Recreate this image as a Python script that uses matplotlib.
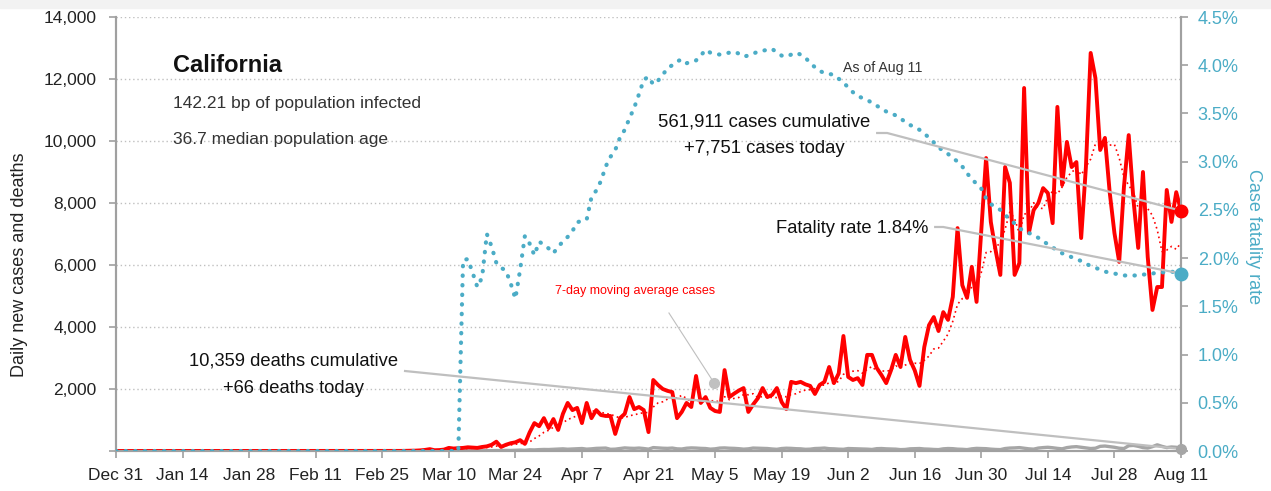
import numpy as np
import pandas as pd
import matplotlib
matplotlib.use("Agg")
import matplotlib.pyplot as plt
import matplotlib.dates as mdates
from matplotlib import font_manager
from matplotlib.patches import Rectangle

# daily new cases, Feb 29 -> Aug 11 (earlier days ~0)
cases = [3, 5, 10, 12, 20, 35, 60, 25, 30, 45,
         100, 80, 90, 100, 120, 110, 100, 130, 150, 200,
         300, 130, 200, 250, 280, 350, 230, 600, 900, 800,
         1060, 740, 1030, 680, 1200, 1550, 1320, 1390, 900, 1550,
         1060, 1320, 1160, 1130, 1130, 550, 1060, 1200, 1740, 1350,
         1420, 1320, 610, 2290, 2130, 2000, 1940, 1900, 1060, 1260,
         1550, 1420, 2420, 1550, 1740, 1390, 1290, 1260, 2610, 1740,
         1850, 1950, 2030, 1260, 1500, 1700, 2030, 1740, 1810, 2030,
         1580, 1350, 2230, 2190, 2230, 2150, 2100, 1840, 2130, 2230,
         2710, 2190, 2500, 3710, 2390, 2290, 2350, 2130, 3100, 3100,
         2680, 2450, 2190, 2600, 3100, 2710, 3680, 2940, 2600, 2100,
         3350, 4060, 4320, 3870, 4480, 4230, 4970, 7190, 5350, 4940,
         5940, 4810, 7130, 9450, 7390, 6480, 5680, 9160, 8650, 5680,
         6060, 11710, 7030, 7770, 8000, 8480, 8320, 7350, 11100, 8580,
         9970, 9160, 9320, 6870, 9160, 12840, 12030, 9710, 10100, 8350,
         7030, 6100, 8520, 10190, 8100, 6550, 9000, 6260, 4550, 5290,
         5290, 8420, 7390, 8350, 7751]

# daily new deaths, same days
deaths = [0, 0, 0, 0, 1, 1, 2, 1, 2, 3,
          4, 3, 5, 6, 8, 4, 6, 7, 10, 12,
          15, 12, 20, 18, 25, 30, 22, 40, 35, 45,
          50, 48, 55, 60, 70, 58, 65, 75, 80, 60,
          70, 85, 90, 95, 55, 60, 80, 100, 90, 85,
          95, 80, 60, 110, 100, 90, 85, 95, 70, 65,
          90, 100, 95, 85, 80, 60, 70, 95, 100, 90,
          85, 75, 60, 70, 95, 90, 85, 80, 65, 55,
          80, 90, 85, 75, 70, 55, 60, 80, 85, 95,
          75, 70, 60, 55, 80, 75, 70, 65, 60, 50,
          75, 80, 70, 65, 60, 45, 50, 70, 75, 80,
          65, 60, 50, 45, 70, 80, 75, 60, 55, 45,
          70, 85, 80, 75, 60, 50, 45, 80, 95, 100,
          110, 90, 70, 60, 95, 110, 120, 105, 85, 70,
          110, 130, 140, 120, 100, 80, 90, 150, 160, 140,
          120, 90, 80, 170, 180, 150, 110, 95, 140, 200,
          150, 110, 130, 120, 66]

# case fatality rate (%), Mar 12 -> Aug 11 (0 before)
cfr = [0.00, 1.98, 1.99, 1.85, 1.70, 1.80, 2.25, 2.12, 1.95, 1.90,
       1.87, 1.74, 1.58, 1.88, 2.23, 2.15, 2.03, 2.17, 2.14, 2.10,
       2.05, 2.12, 2.17, 2.22, 2.28, 2.37, 2.39, 2.40, 2.63, 2.70,
       2.80, 2.95, 3.05, 3.12, 3.25, 3.33, 3.45, 3.56, 3.70, 3.85,
       3.88, 3.80, 3.84, 3.90, 3.97, 4.00, 4.04, 4.06, 4.02, 4.04,
       4.05, 4.10, 4.16, 4.13, 4.12, 4.11, 4.12, 4.13, 4.14, 4.12,
       4.09, 4.10, 4.12, 4.14, 4.15, 4.16, 4.17, 4.13, 4.10, 4.09,
       4.11, 4.13, 4.11, 4.08, 4.02, 3.98, 3.94, 3.92, 3.91, 3.90,
       3.86, 3.82, 3.77, 3.72, 3.68, 3.66, 3.64, 3.61, 3.58, 3.55,
       3.52, 3.50, 3.48, 3.45, 3.41, 3.38, 3.36, 3.33, 3.29, 3.25,
       3.20, 3.15, 3.11, 3.08, 3.04, 3.00, 2.95, 2.88, 2.82, 2.77,
       2.72, 2.62, 2.56, 2.53, 2.50, 2.45, 2.40, 2.36, 2.31, 2.28,
       2.26, 2.24, 2.21, 2.18, 2.14, 2.11, 2.08, 2.05, 2.03, 2.01,
       1.99, 1.97, 1.94, 1.92, 1.90, 1.88, 1.86, 1.85, 1.84, 1.83,
       1.82, 1.82, 1.82, 1.82, 1.83, 1.83, 1.84, 1.85, 1.85, 1.86,
       1.86, 1.85, 1.84]

tick_labels = ["Dec 31", "Jan 14", "Jan 28", "Feb 11", "Feb 25", "Mar 10",
               "Mar 24", "Apr 7", "Apr 21", "May 5", "May 19", "Jun 2",
               "Jun 16", "Jun 30", "Jul 14", "Jul 28", "Aug 11"]
left_ticks = [0, 2000, 4000, 6000, 8000, 10000, 12000, 14000]
right_ticks = [0, 0.5, 1.0, 1.5, 2.0, 2.5, 3.0, 3.5, 4.0, 4.5]

RED = "#ff0000"
TEAL = "#4bacc6"
GRAY = "#a6a6a6"
LEAD = "#bfbfbf"

names = {f.name for f in font_manager.fontManager.ttflist}
NARROW = "Liberation Sans Narrow" if "Liberation Sans Narrow" in names else "Liberation Sans"
plt.rcParams["font.family"] = [NARROW, "DejaVu Sans"]

days = pd.date_range("2019-12-31", "2020-08-11")
n = len(days)


def pad(vals):
    vals = np.asarray(vals, dtype=float)
    return np.concatenate([np.zeros(n - len(vals)), vals])


cases_full = pad(cases)
deaths_full = pad(deaths)
cfr_full = pad(cfr)
ma7 = pd.Series(cases_full).rolling(7, min_periods=1).mean().values

base = mdates.date2num(days[0])


def D(d):
    # day offset from Dec 31 -> x data
    return base + d


fig = plt.figure(figsize=(12.71, 4.91), dpi=100)
fig.patches.append(Rectangle((0, 1 - 8 / 491), 1, 8 / 491, transform=fig.transFigure,
                             color="#f2f2f2", zorder=0))
ax = fig.add_axes([116 / 1271, 40 / 491, 1065 / 1271, 434 / 491])
ax2 = ax.twinx()

ax.plot(days, deaths_full, color=GRAY, lw=2.4, zorder=2, solid_joinstyle="round")
ax.plot(days, cases_full, color=RED, lw=2.8, zorder=3, solid_joinstyle="round")
ax.plot(days, ma7, color=RED, lw=1.2, ls=(0, (1, 2)), zorder=4)
ax2.plot(days, cfr_full, color=TEAL, lw=3, ls=(0, (0.1, 2.2)), dash_capstyle="round", zorder=3)

ax.set_xlim(days[0], days[-1])
ax.set_ylim(0, 14000)
ax2.set_ylim(0, 4.5)

ax.set_xticks(pd.date_range("2019-12-31", "2020-08-11", freq="14D"))
ax.set_xticklabels(tick_labels)
ax.set_yticks(left_ticks)
ax.set_yticklabels(["" if v == 0 else f"{v:,}" for v in left_ticks])
ax2.set_yticks(right_ticks)
ax2.set_yticklabels([f"{v:.1f}%" for v in right_ticks])

ax.yaxis.grid(True, color="#c0c0c0", lw=1, ls=(0, (1, 2)))
ax.set_axisbelow(True)

for a in (ax, ax2):
    a.spines["top"].set_visible(False)
    for s in ("left", "right", "bottom"):
        a.spines[s].set_color("#a0a0a0")
        a.spines[s].set_linewidth(1.5)
ax.tick_params(axis="both", colors="#a0a0a0", labelcolor="#222222", labelsize=12.5, length=5, width=1.2)
ax.tick_params(axis="x", pad=7)
ax.tick_params(axis="y", pad=9)
ax2.tick_params(axis="y", colors="#a0a0a0", labelcolor=TEAL, labelsize=13, length=5, width=1.2, pad=7)

ax.set_ylabel("Daily new cases and deaths", fontsize=13, color="#222222")
ax.yaxis.set_label_coords(-0.083, 0.43)
ax2.set_ylabel("Case fatality rate", fontsize=13, color=TEAL, rotation=270)
ax2.yaxis.set_label_coords(1.0765, 0.495)

T = ax.transData

# titles
ax2.text(D(12.0), 12226, "California", transform=T, fontsize=17, fontweight="bold",
         va="baseline", color="#111111")
ax2.text(D(12.0), 11065, "142.21 bp of population infected", transform=T, fontsize=12.5,
         va="baseline", color="#333333")
ax2.text(D(12.0), 9903, "36.7 median population age", transform=T, fontsize=12.5,
         va="baseline", color="#333333")

# cases callout
ax2.text(D(136.3), 10452, "561,911 cases cumulative", transform=T, fontsize=13.3,
         ha="center", va="baseline", color="#111111")
ax2.text(D(136.3), 9613, "+7,751 cases today", transform=T, fontsize=13.3,
         ha="center", va="baseline", color="#111111")
ax2.plot([D(160.1), D(162.2), mdates.date2num(days[-1])], [10258, 10258, cases_full[-1]],
         transform=T, color=LEAD, lw=1.6, zorder=5)
ax2.plot([days[-1]], [cases_full[-1]], transform=T, marker="o", ms=9, color=RED,
         clip_on=False, zorder=6)

# fatality callout
ax2.text(D(170.8), 7032, "Fatality rate 1.84%", transform=T, fontsize=13.2,
         ha="right", va="baseline", color="#111111")
ax2.plot([D(172.3), D(174.0), mdates.date2num(days[-1])], [7226, 7226, cfr_full[-1] * 14000 / 4.5],
         transform=T, color=LEAD, lw=1.6, zorder=5)
ax2.plot([days[-1]], [cfr_full[-1]], marker="o", ms=9, color=TEAL, clip_on=False, zorder=6)

# deaths callout
ax2.text(D(37.4), 2774, "10,359 deaths cumulative", transform=T, fontsize=13.2,
         ha="center", va="baseline", color="#111111")
ax2.text(D(37.4), 1871, "+66 deaths today", transform=T, fontsize=13.2,
         ha="center", va="baseline", color="#111111")
ax2.plot([D(60.8), mdates.date2num(days[-1])], [2580, deaths_full[-1]],
         transform=T, color=LEAD, lw=1.6, zorder=5)
ax2.plot([days[-1]], [deaths_full[-1]], transform=T, marker="o", ms=7, color=GRAY,
         clip_on=False, zorder=6)

# moving average label
ax2.text(D(92.3), 5065, "7-day moving average cases", transform=T, fontsize=9,
         color=RED, va="baseline")
ax2.plot([D(116.3), D(125.8)], [4452, 2194], transform=T, color=LEAD, lw=0.8, zorder=5)
ax2.plot([D(125.8)], [2194], transform=T, marker="o", ms=7, color="#c0c0c0", zorder=6)

ax2.text(D(152.9), 12226, "As of Aug 11", transform=T, fontsize=10.2, va="baseline", color="#333333")

fig.savefig("out.png", dpi=100)
